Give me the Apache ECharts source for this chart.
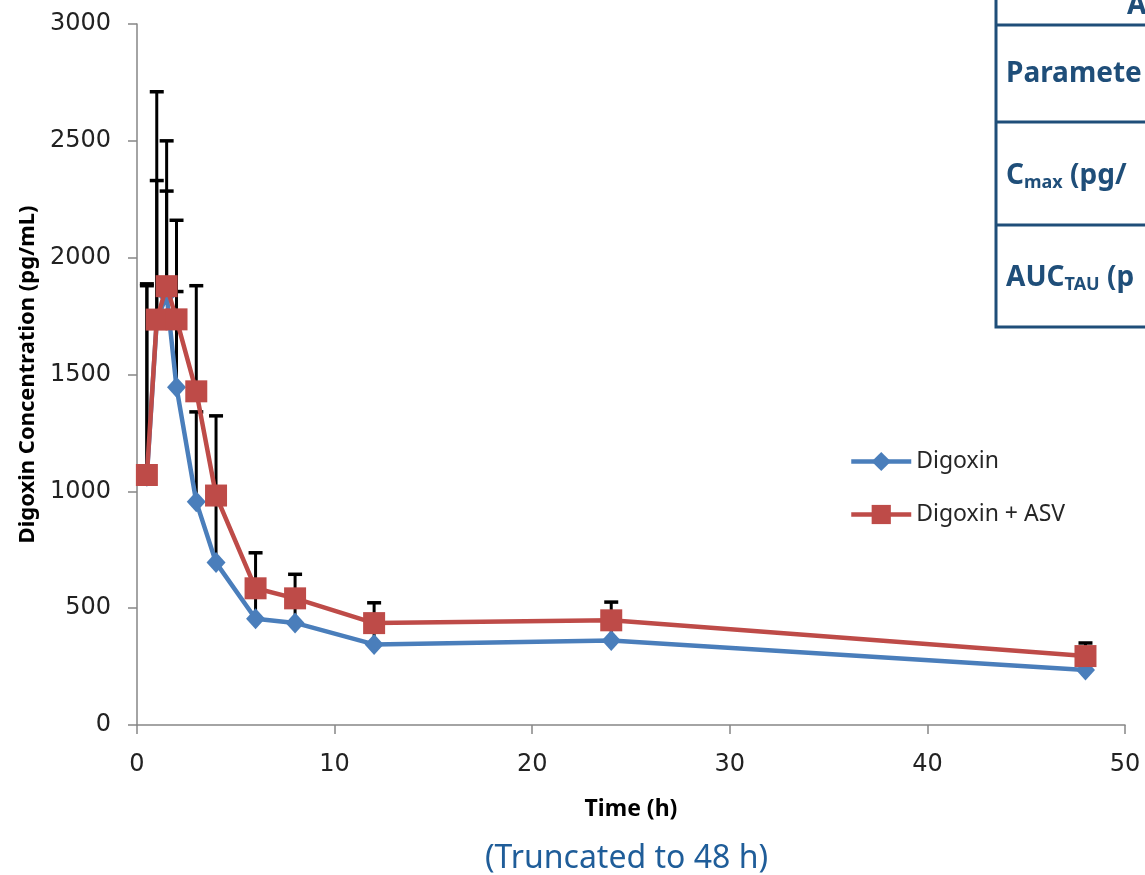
<!DOCTYPE html>
<html>
<head>
<meta charset="utf-8">
<script src="https://cdn.jsdelivr.net/npm/echarts@6/dist/echarts.min.js"></script>
<style>
  html, body { margin: 0; padding: 0; background: #fff; }
  #main { width: 1145px; height: 875px; }
</style>
</head>
<body>
<div id="main"></div>
<script>
// time points (h)
const times = [0.5, 1, 1.5, 2, 3, 4, 6, 8, 12, 24, 48];

// mean concentrations (pg/mL)
const digoxin    = [1065, 1730, 1840, 1445, 955, 695, 455, 437, 345, 362, 235];
const digoxinAsv = [1070, 1735, 1878, 1736, 1428, 982, 585, 542, 436, 448, 295];

// upper error bar ends (mean + SD)
const digoxinUpper    = [1880, 2330, 2285, 1855, 1340, 990, 590, 520, 425, 440, 290];
const digoxinAsvUpper = [1888, 2710, 2500, 2160, 1880, 1323, 737, 645, 523, 526, 351];

const seriesNames = ['Digoxin', 'Digoxin + ASV'];
const yTicks = { min: 0, max: 3000, interval: 500 };
const xTicks = { min: 0, max: 50, interval: 10 };

const BLUE = '#4A7EBB';
const RED = '#BE4B48';
const NAVY = '#1F4E79';
const AXIS = '#868686';

function toPairs(xs, ys) { return xs.map((x, i) => [x, ys[i]]); }
function toBars(xs, ys, ups) { return xs.map((x, i) => [x, ys[i], ups[i]]); }

function errorBars(data, z) {
  return {
    type: 'custom', data, z, silent: true,
    renderItem: (params, api) => {
      const p0 = api.coord([api.value(0), api.value(1)]);
      const p1 = api.coord([api.value(0), api.value(2)]);
      const w = 7;
      return {
        type: 'group', children: [
          { type: 'line', shape: { x1: p0[0], y1: p0[1], x2: p1[0], y2: p1[1] }, style: { stroke: '#000', lineWidth: 3 } },
          { type: 'line', shape: { x1: p1[0] - w, y1: p1[1], x2: p1[0] + w, y2: p1[1] }, style: { stroke: '#000', lineWidth: 3.5 } }
        ]
      };
    }
  };
}

const chart = echarts.init(document.getElementById('main'), null, { renderer: 'canvas' });

const cellText = { fill: NAVY, fontFamily: 'Noto Sans', fontWeight: 'bold', fontSize: 28 };

chart.setOption({
  animation: false,
  backgroundColor: '#fff',
  title: {
    text: '(Truncated to 48 h)',
    left: 485, top: 843, padding: 0,
    textStyle: { color: '#1F5D99', fontFamily: 'Noto Sans', fontWeight: 'normal', fontSize: 32 }
  },
  legend: {
    data: seriesNames.map(n => ({ name: n, lineStyle: { width: 4.5 } })),
    orient: 'vertical',
    left: 849, top: 450, padding: 0,
    itemWidth: 60, itemHeight: 24, itemGap: 30,
    textStyle: { color: '#262626', fontFamily: 'Noto Sans', fontSize: 23 }
  },
  grid: { left: 137, right: 20, top: 24, bottom: 150, containLabel: false },
  xAxis: {
    type: 'value', ...xTicks,
    name: 'Time (h)', nameLocation: 'middle', nameGap: 73,
    nameTextStyle: { color: '#000', fontFamily: 'Noto Sans', fontWeight: 'bold', fontSize: 23 },
    axisLine: { lineStyle: { color: AXIS, width: 1.5 } },
    axisTick: { length: 9, lineStyle: { color: AXIS, width: 1.5 } },
    axisLabel: { color: '#222', fontFamily: 'DejaVu Sans', fontSize: 24, margin: 28 },
    splitLine: { show: false }
  },
  yAxis: {
    type: 'value', ...yTicks,
    name: 'Digoxin Concentration (pg/mL)', nameLocation: 'middle', nameGap: 96, nameRotate: 90,
    nameTextStyle: { color: '#000', fontFamily: 'Noto Sans', fontWeight: 'bold', fontSize: 22 },
    axisLine: { show: true, lineStyle: { color: AXIS, width: 1.5 } },
    axisTick: { show: true, length: 9, lineStyle: { color: AXIS, width: 1.5 } },
    axisLabel: { color: '#222', fontFamily: 'DejaVu Sans', fontSize: 24, margin: 26, formatter: v => String(v) },
    splitLine: { show: false }
  },
  series: [
    errorBars(toBars(times, digoxin, digoxinUpper), 1),
    {
      name: seriesNames[0], type: 'line', z: 2,
      data: toPairs(times, digoxin),
      symbol: 'diamond', symbolSize: [19, 21],
      lineStyle: { color: BLUE, width: 4.5 },
      itemStyle: { color: BLUE }
    },
    errorBars(toBars(times, digoxinAsv, digoxinAsvUpper), 3),
    {
      name: seriesNames[1], type: 'line', z: 4,
      data: toPairs(times, digoxinAsv),
      symbol: 'rect', symbolSize: 22,
      lineStyle: { color: RED, width: 4.5 },
      itemStyle: { color: RED }
    }
  ],
  graphic: [
    { type: 'rect', shape: { x: 996, y: -10, width: 200, height: 337 }, style: { fill: 'none', stroke: NAVY, lineWidth: 3 } },
    { type: 'line', shape: { x1: 996, y1: 25, x2: 1150, y2: 25 }, style: { stroke: NAVY, lineWidth: 3 } },
    { type: 'line', shape: { x1: 996, y1: 122, x2: 1150, y2: 122 }, style: { stroke: NAVY, lineWidth: 3 } },
    { type: 'line', shape: { x1: 996, y1: 225, x2: 1150, y2: 225 }, style: { stroke: NAVY, lineWidth: 3 } },
    { type: 'text', x: 1127, y: 6, style: { ...cellText, text: 'A', verticalAlign: 'middle' } },
    { type: 'text', x: 1006, y: 74, style: { ...cellText, text: 'Paramete', verticalAlign: 'middle' } },
    {
      type: 'text', x: 1006, y: 176,
      style: {
        text: '{b|C}{s|max}{b| (pg/}', verticalAlign: 'middle',
        rich: {
          b: { ...cellText, lineHeight: 40 },
          s: { ...cellText, fontSize: 18, lineHeight: 40, padding: [14, 0, 0, 0] }
        }
      }
    },
    {
      type: 'text', x: 1006, y: 278,
      style: {
        text: '{b|AUC}{s|TAU}{b| (p}', verticalAlign: 'middle',
        rich: {
          b: { ...cellText, lineHeight: 40 },
          s: { ...cellText, fontSize: 18, lineHeight: 40, padding: [14, 0, 0, 0] }
        }
      }
    }
  ]
});

window.addEventListener('resize', () => chart.resize());
</script>
</body>
</html>
